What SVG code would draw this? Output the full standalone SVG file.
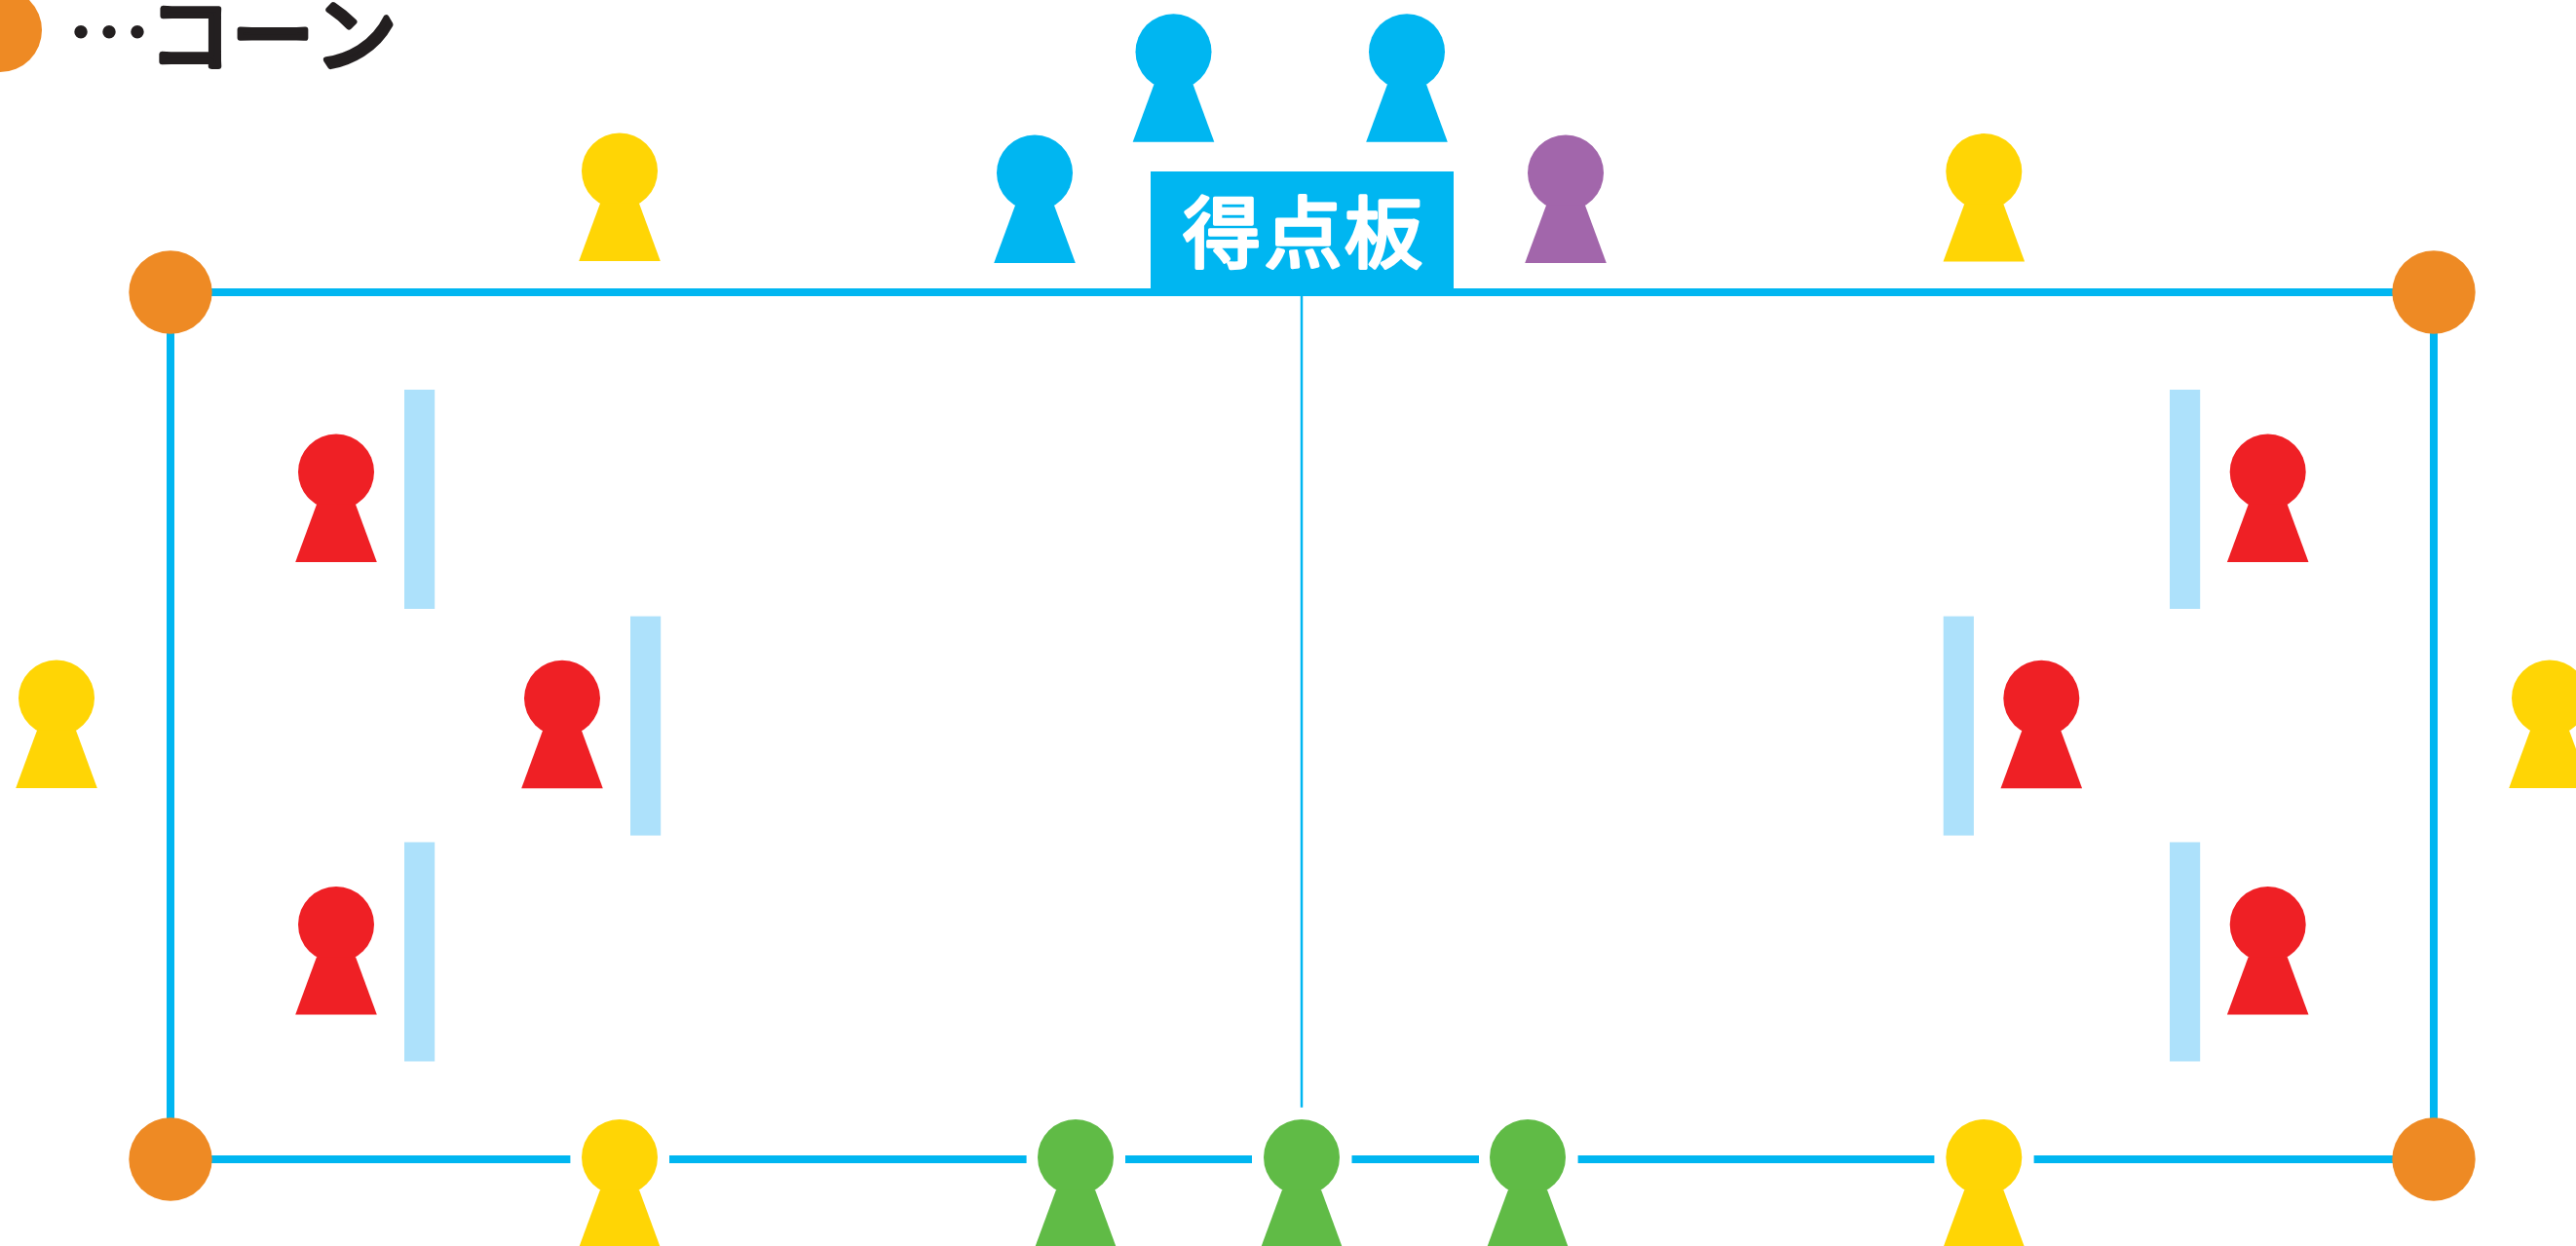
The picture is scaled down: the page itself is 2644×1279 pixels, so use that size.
<svg xmlns="http://www.w3.org/2000/svg" width="2644" height="1279" viewBox="0 0 2644 1279">
<style>
.line{stroke:#00b6f1;stroke-width:8;fill:none}
.thin{stroke:#00b6f1;stroke-width:2.5;fill:none}
.cone{fill:#ee8a24}
.mat{fill:#ade1fb}
.yellow{fill:#ffd505}
.blue{fill:#00b6f1}
.purple{fill:#a266ab}
.red{fill:#ef2025}
.green{fill:#60bb46}
.t{font-family:"Noto Sans CJK JP","Noto Sans",sans-serif;stroke-linejoin:round;stroke-linecap:round}
.dark{fill:#231f20;stroke:#231f20}
.white{fill:#fff;stroke:#fff}
</style>
<defs>
<g id="p"><circle cx="0" cy="-92.5" r="39"/><path d="M-20,-59.3 L-41.8,0 L41.8,0 L20,-59.3 Z"/></g>
</defs>
<rect width="2644" height="1279" fill="#fff"/>
<g id="connectors">
<path class="line" d="M175,300H2498M175,300V1190M2498,300V1190"/>
<path class="line" d="M175,1190H585.4M687,1190H1053.6M1155,1190H1285M1387.5,1190H1518M1619.6,1190H1985.4M2087.6,1190H2498"/>
<path class="thin" d="M1336,304V1136.7"/>
</g>
<g id="legend">
<circle class="cone" cx="0" cy="31" r="43"/>
<text class="t dark" x="68.5" y="66" font-size="87" stroke-width="2">…</text>
<text class="t dark" x="153 238 323" y="67" font-size="84" stroke-width="6">コーン</text>
</g>
<g id="scoreboard"><rect class="blue" x="1181" y="176" width="311" height="128"/>
<text class="t white" x="1214 1297.5 1380" y="268" font-size="80" stroke-width="3.5">得点板</text></g>
<g id="cone-tl"><circle class="cone" cx="175" cy="300" r="42.7"/></g>
<g id="cone-tr"><circle class="cone" cx="2498" cy="300" r="42.7"/></g>
<g id="cone-bl"><circle class="cone" cx="175" cy="1190" r="42.7"/></g>
<g id="cone-br"><circle class="cone" cx="2498" cy="1190" r="42.7"/></g>
<g id="mat-1"><rect class="mat" x="415" y="400" width="31.2" height="225"/></g>
<g id="mat-2"><rect class="mat" x="647" y="632.6" width="31.2" height="225"/></g>
<g id="mat-3"><rect class="mat" x="415" y="864.5" width="31.2" height="225"/></g>
<g id="mat-4"><rect class="mat" x="2227" y="400" width="31.2" height="225"/></g>
<g id="mat-5"><rect class="mat" x="1994.7" y="632.6" width="31.2" height="225"/></g>
<g id="mat-6"><rect class="mat" x="2227" y="864.5" width="31.2" height="225"/></g>
<g id="player-y1"><use href="#p" class="yellow" x="636" y="268"/></g>
<g id="player-b1"><use href="#p" class="blue" x="1062" y="270"/></g>
<g id="player-b2"><use href="#p" class="blue" x="1204.5" y="145.7"/></g>
<g id="player-b3"><use href="#p" class="blue" x="1444" y="145.7"/></g>
<g id="player-p"><use href="#p" class="purple" x="1607" y="270"/></g>
<g id="player-y2"><use href="#p" class="yellow" x="2036.3" y="268.6"/></g>
<g id="player-y3"><use href="#p" class="yellow" x="58" y="809"/></g>
<g id="player-y4"><use href="#p" class="yellow" x="2617" y="809"/></g>
<g id="player-r1"><use href="#p" class="red" x="345" y="577"/></g>
<g id="player-r2"><use href="#p" class="red" x="577" y="809.3"/></g>
<g id="player-r3"><use href="#p" class="red" x="345" y="1041.5"/></g>
<g id="player-r4"><use href="#p" class="red" x="2327.7" y="577"/></g>
<g id="player-r5"><use href="#p" class="red" x="2095.3" y="809.3"/></g>
<g id="player-r6"><use href="#p" class="red" x="2327.7" y="1041.5"/></g>
<g id="player-y5"><use href="#p" class="yellow" x="636" y="1280.5"/></g>
<g id="player-g1"><use href="#p" class="green" x="1104" y="1280.5"/></g>
<g id="player-g2"><use href="#p" class="green" x="1336" y="1280.5"/></g>
<g id="player-g3"><use href="#p" class="green" x="1568" y="1280.5"/></g>
<g id="player-y6"><use href="#p" class="yellow" x="2036.3" y="1280.5"/></g>
</svg>
